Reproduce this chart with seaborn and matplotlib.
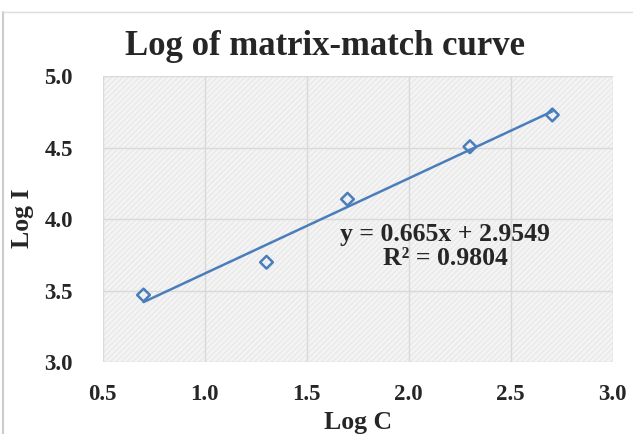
import numpy as np
import pandas as pd
import matplotlib
matplotlib.use("Agg")
import matplotlib.pyplot as plt
import seaborn as sns
from matplotlib.patches import Rectangle
from matplotlib.lines import Line2D

# ---- data ----
log_c = [0.700, 1.303, 1.700, 2.300, 2.704]
log_i = [3.470, 3.699, 4.139, 4.506, 4.728]
slope = 0.665
intercept = 2.9549
r_squared = 0.9804
x_ticks = [0.5, 1.0, 1.5, 2.0, 2.5, 3.0]
y_ticks = [3.0, 3.5, 4.0, 4.5, 5.0]

df = pd.DataFrame({"Log C": log_c, "Log I": log_i})
x_fit = np.array([min(log_c), max(log_c)])
fit_df = pd.DataFrame({"Log C": x_fit, "Log I": slope * x_fit + intercept})

sns.set_theme(style="white")
plt.rcParams["font.family"] = ["Liberation Serif", "DejaVu Serif"]

blue = "#4a7ebb"
W, H = 633, 434
fig = plt.figure(figsize=(W / 100, H / 100), dpi=100)
left, right, top, bottom = 102.7, 612.7, 76.0, 362.3
ax = fig.add_axes([left / W, 1 - bottom / H, (right - left) / W, (bottom - top) / H])
ax.set_facecolor("#f4f4f4")
ax.add_patch(Rectangle((0, 0), 1, 1, transform=ax.transAxes, facecolor="none",
                       edgecolor="#e9e9e9", hatch="//////", lw=0, zorder=0))

sns.lineplot(data=fit_df, x="Log C", y="Log I", ax=ax, color=blue, lw=1.8, zorder=3)
sns.scatterplot(data=df, x="Log C", y="Log I", ax=ax, marker="D", s=42,
                facecolor="none", edgecolor=blue, linewidth=1.8, zorder=4)

ax.set_xlim(0.5, 3.0)
ax.set_ylim(3.0, 5.0)
ax.set_xticks(x_ticks)
ax.set_yticks(y_ticks)
ax.set_xticklabels([f"{v:.1f}" for v in x_ticks], fontsize=16.5, fontweight="bold")
ax.set_yticklabels([f"{v:.1f}" for v in y_ticks], fontsize=16.5, fontweight="bold")
ax.tick_params(axis="x", length=0, pad=15.5)
ax.tick_params(axis="y", length=0, pad=21.5)
ax.grid(True, color="#d9d9d9", lw=1.0)
ax.set_axisbelow(True)
for s in ax.spines.values():
    s.set_visible(False)

ax.set_xlabel("Log C", fontsize=18.5, fontweight="bold", va="center")
ax.xaxis.set_label_coords(0.5, (bottom - 423) / (bottom - top))
ax.set_ylabel("Log I", fontsize=18.5, fontweight="bold", va="center")
ax.yaxis.set_label_coords((23 - left) / (right - left), (bottom - 218) / (bottom - top))

fig.text(325 / W, 1 - 55 / H, "Log of matrix-match curve", ha="center", va="baseline",
         fontsize=25, fontweight="bold")

ax.text(0.672, 0.406, f"y = {slope}x + {intercept}\nR² = {r_squared}", transform=ax.transAxes,
        ha="center", va="center", fontsize=18.5, fontweight="bold", linespacing=1.05)

# frame lines of the original screenshot
fig.add_artist(Line2D([3 / W, 3 / W], [0, 1 - 12 / H], transform=fig.transFigure, color="#cccccc", lw=1.5))
fig.add_artist(Line2D([3 / W, 1], [1 - 12 / H, 1 - 12 / H], transform=fig.transFigure, color="#dddddd", lw=1.0))

fig.savefig("out.png", dpi=100)
